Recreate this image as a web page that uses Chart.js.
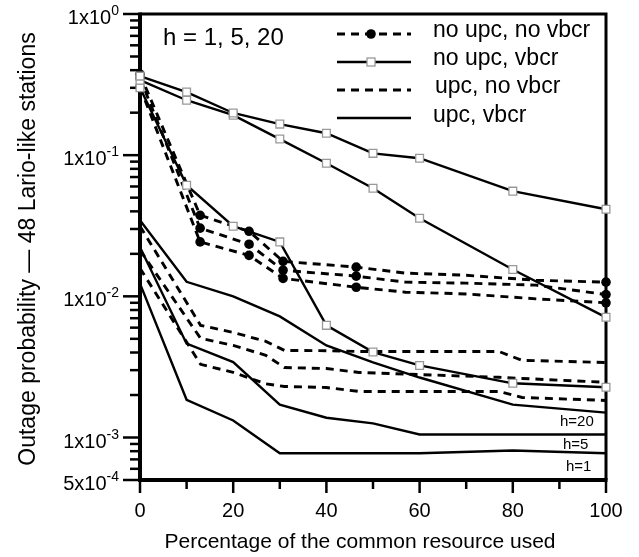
<!DOCTYPE html>
<html>
<head>
<meta charset="utf-8">
<script src="https://cdn.jsdelivr.net/npm/chart.js@4.4.1/dist/chart.umd.min.js"></script>
<style>
  body { margin: 0; background: #fff; }
  canvas { display: block; }
</style>
</head>
<body>
<canvas id="myChart" width="639" height="557"></canvas>
<script>
// x positions (percentage of the common resource used)
const xVbcr = [0, 10, 20, 30, 40, 50, 60, 80, 100];
const xNoUpcNoVbcr = [0, 12.9, 23.4, 30.7, 46.4, 57, 70, 85, 100];
const xUpcNoVbcr = [0, 13, 20, 27, 31, 40, 47, 77, 82, 100];

// no upc, vbcr (solid, open squares) - h = 1, 5, 20
const noUpcVbcrA = [0.363, 0.280, 0.199, 0.166, 0.143, 0.103, 0.0952, 0.0556, 0.0414];
const noUpcVbcrB = [0.340, 0.245, 0.192, 0.130, 0.0877, 0.0583, 0.0357, 0.0155, 0.0071];
const noUpcVbcrC = [0.300, 0.0612, 0.0314, 0.0243, 0.00623, 0.00403, 0.00324, 0.00242, 0.00227];

// no upc, no vbcr (dashed, filled dots)
const noUpcNoVbcrA = [0.375, 0.0375, 0.0289, 0.0177, 0.0161, 0.0146, 0.0141, 0.0130, 0.0126];
const noUpcNoVbcrB = [0.352, 0.0304, 0.0234, 0.0153, 0.0139, 0.0126, 0.0124, 0.0120, 0.0103];
const noUpcNoVbcrC = [0.303, 0.0243, 0.0195, 0.0134, 0.0116, 0.0107, 0.0104, 0.0096, 0.0090];
const noUpcNoVbcrMarker = [1, 1, 1, 1, 1, 0, 0, 0, 1];

// upc, no vbcr (dashed)
const upcNoVbcrA = [0.0314, 0.00623, 0.00555, 0.00480, 0.00414, 0.00412, 0.00407, 0.00407, 0.00352, 0.00340];
const upcNoVbcrB = [0.0212, 0.00504, 0.00449, 0.00382, 0.00313, 0.00308, 0.00289, 0.00267, 0.00262, 0.00246];
const upcNoVbcrC = [0.0158, 0.0033, 0.00289, 0.00240, 0.00230, 0.00226, 0.00212, 0.00212, 0.00192, 0.00183];

// upc, vbcr (solid)
const upcVbcrH20 = [0.0346, 0.01267, 0.0100, 0.00721, 0.00449, 0.00340, 0.00266, 0.00171, 0.00150];
const upcVbcrH5 = [0.0223, 0.00462, 0.00342, 0.00171, 0.00138, 0.00126, 0.00105, 0.00105, 0.00105];
const upcVbcrH1 = [0.0123, 0.00185, 0.00132, 0.000774, 0.000774, 0.000774, 0.000774, 0.000809, 0.000774];

// axis ticks
const xTickLabels = [0, 20, 40, 60, 80, 100];
const yTickLabels = [
    { v: 1, base: "1x10", exp: "0" },
    { v: 0.1, base: "1x10", exp: "-1" },
    { v: 0.01, base: "1x10", exp: "-2" },
    { v: 0.001, base: "1x10", exp: "-3" },
    { v: 0.0005, base: "5x10", exp: "-4" }
];
const legendLabels = ["no upc, no vbcr", "no upc, vbcr", "upc, no vbcr", "upc, vbcr"];
const hLabels = ["h=20", "h=5", "h=1"];

const FONT = '"Liberation Sans", Arial, sans-serif';
const SOLID_W = 2.4;
const DASH_W = 2.9;
const DASH = [8, 6];

function pts(xs, ys) {
    return xs.map((x, i) => ({ x: x, y: ys[i] }));
}

function squareSet(ys) {
    return {
        data: pts(xVbcr, ys),
        borderColor: "#000",
        borderWidth: SOLID_W,
        pointStyle: "rect",
        pointRadius: 5.5,
        pointBackgroundColor: "#fff",
        pointBorderColor: "#999",
        pointBorderWidth: 1.3,
        clip: false
    };
}

function dotSet(ys) {
    return {
        data: pts(xNoUpcNoVbcr, ys),
        borderColor: "#000",
        borderWidth: DASH_W,
        borderDash: DASH,
        pointStyle: "circle",
        pointRadius: noUpcNoVbcrMarker.map(m => m ? 4.8 : 0),
        pointBackgroundColor: "#000",
        pointBorderColor: "#000",
        pointBorderWidth: 0,
        clip: false
    };
}

function dashSet(ys) {
    return {
        data: pts(xUpcNoVbcr, ys),
        borderColor: "#000",
        borderWidth: DASH_W,
        borderDash: DASH,
        pointRadius: 0,
        clip: false
    };
}

function solidSet(ys) {
    return {
        data: pts(xVbcr, ys),
        borderColor: "#000",
        borderWidth: SOLID_W,
        pointRadius: 0,
        clip: false
    };
}

const decorPlugin = {
    id: "decor",
    beforeDatasetsDraw(chart) {
        const ctx = chart.ctx;
        const a = chart.chartArea;
        const xs = chart.scales.x;
        const ys = chart.scales.y;
        ctx.save();
        ctx.strokeStyle = "#000";
        ctx.fillStyle = "#000";

        // frame
        ctx.lineWidth = 3;
        ctx.beginPath();
        ctx.moveTo(a.left, a.top); ctx.lineTo(a.right, a.top); ctx.lineTo(a.right, a.bottom);
        ctx.stroke();
        ctx.lineWidth = 4;
        ctx.beginPath();
        ctx.moveTo(a.left, a.top - 1.5); ctx.lineTo(a.left, a.bottom); ctx.lineTo(a.right + 1.5, a.bottom);
        ctx.stroke();

        // y ticks
        ctx.lineWidth = 2.5;
        for (let d = -4; d <= 0; d++) {
            for (let m = 1; m <= 9; m++) {
                const v = m * Math.pow(10, d);
                if (v < 0.0005 * 0.999 || v > 1.001) continue;
                const y = ys.getPixelForValue(v);
                const major = m === 1 || Math.abs(v - 0.0005) < 1e-9;
                ctx.beginPath();
                ctx.moveTo(major ? a.left - 17 : a.left - 10, y);
                ctx.lineTo(a.left, y);
                ctx.stroke();
            }
        }
        // x ticks
        for (let v = 0; v <= 100; v += 10) {
            const x = xs.getPixelForValue(v);
            ctx.beginPath();
            ctx.moveTo(x, a.bottom);
            ctx.lineTo(x, a.bottom + (v % 20 === 0 ? 13 : 9));
            ctx.stroke();
        }

        // y tick labels with superscripts
        yTickLabels.forEach(t => {
            const y = ys.getPixelForValue(t.v);
            ctx.font = "14px " + FONT;
            ctx.textAlign = "right";
            ctx.textBaseline = "alphabetic";
            const ew = ctx.measureText(t.exp).width;
            ctx.fillText(t.exp, 119, y + 1);
            ctx.font = "20px " + FONT;
            ctx.fillText(t.base, 119 - ew, y + 10);
        });

        // x tick labels
        ctx.font = "20px " + FONT;
        ctx.textAlign = "center";
        xTickLabels.forEach(v => {
            ctx.fillText(String(v), xs.getPixelForValue(v), 517);
        });

        // axis titles
        ctx.font = "21px " + FONT;
        ctx.fillText("Percentage of the common resource used", 360, 548);
        ctx.save();
        ctx.translate(35, 249);
        ctx.rotate(-Math.PI / 2);
        ctx.font = "23px " + FONT;
        ctx.fillText("Outage probability \u2014 48 Lario-like stations", 0, 0);
        ctx.restore();

        // annotations
        ctx.textAlign = "left";
        ctx.font = "24px " + FONT;
        ctx.fillText("h = 1, 5, 20", 163, 45);
        ctx.font = "15px " + FONT;
        ctx.fillText(hLabels[0], 560, 426);
        ctx.fillText(hLabels[1], 563, 449);
        ctx.fillText(hLabels[2], 566, 471);

        // legend
        const rowsY = [34, 62, 90, 118];
        const textY = [37, 65, 93, 122];
        const textX = [433, 433, 435, 433];
        rowsY.forEach((y, i) => {
            ctx.lineWidth = i % 2 === 0 ? DASH_W : SOLID_W;
            ctx.setLineDash(i % 2 === 0 ? DASH : []);
            ctx.beginPath();
            ctx.moveTo(337, y);
            ctx.lineTo(411, y);
            ctx.stroke();
            ctx.setLineDash([]);
            if (i === 0) {
                ctx.beginPath();
                ctx.arc(371, y, 4.8, 0, Math.PI * 2);
                ctx.fill();
            } else if (i === 1) {
                ctx.fillStyle = "#fff";
                ctx.fillRect(367, y - 4, 8, 8);
                ctx.strokeStyle = "#999";
                ctx.lineWidth = 1.3;
                ctx.strokeRect(367, y - 4, 8, 8);
                ctx.strokeStyle = "#000";
                ctx.fillStyle = "#000";
            }
            ctx.font = "23px " + FONT;
            ctx.fillText(legendLabels[i], textX[i], textY[i]);
        });
        ctx.restore();
    }
};

const ctx = document.getElementById("myChart").getContext("2d");
const myChart = new Chart(ctx, {
    type: "line",
    data: {
        datasets: [
            squareSet(noUpcVbcrA),
            squareSet(noUpcVbcrB),
            squareSet(noUpcVbcrC),
            dotSet(noUpcNoVbcrA),
            dotSet(noUpcNoVbcrB),
            dotSet(noUpcNoVbcrC),
            dashSet(upcNoVbcrA),
            dashSet(upcNoVbcrB),
            dashSet(upcNoVbcrC),
            solidSet(upcVbcrH20),
            solidSet(upcVbcrH5),
            solidSet(upcVbcrH1)
        ]
    },
    options: {
        responsive: false,
        animation: false,
        devicePixelRatio: 1,
        layout: { padding: { top: 14, right: 33, left: 0, bottom: 0 } },
        plugins: {
            legend: { display: false },
            tooltip: { enabled: false }
        },
        elements: { line: { tension: 0 } },
        scales: {
            x: {
                type: "linear",
                min: 0,
                max: 100,
                ticks: { display: false },
                grid: { display: false },
                border: { display: false },
                afterFit: s => { s.height = 77; }
            },
            y: {
                type: "logarithmic",
                min: 0.0005,
                max: 1,
                ticks: { display: false },
                grid: { display: false },
                border: { display: false },
                afterFit: s => { s.width = 140; }
            }
        }
    },
    plugins: [decorPlugin]
});
</script>
</body>
</html>
